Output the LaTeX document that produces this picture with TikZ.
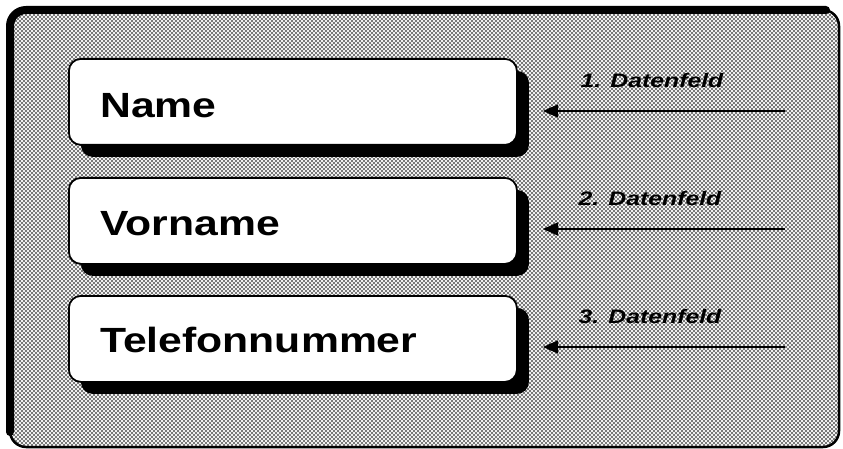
\documentclass[tikz,border=0pt]{standalone}
\usepackage{fontspec}
\setmainfont{Liberation Sans}
\usetikzlibrary{arrows.meta,patterns,shadows}
\pgfdeclarepatternformonly{halftone}{\pgfpoint{-1pt}{-1pt}}{\pgfpoint{5pt}{5pt}}{\pgfpoint{4pt}{4pt}}{%
  \pgfpathcircle{\pgfpoint{0pt}{0pt}}{0.8pt}%
  \pgfpathcircle{\pgfpoint{2pt}{2pt}}{0.8pt}%
  \pgfusepath{fill}}
\tikzset{
  field/.style={draw, line width=1.8pt, fill=white, rounded corners=12pt,
    minimum width=448pt, minimum height=86pt, inner sep=0pt, anchor=north west,
    drop shadow={shadow xshift=12pt, shadow yshift=-12pt, fill=black, opacity=1}},
  fieldtext/.style={anchor=base west, inner sep=0pt, font=\fontsize{35}{40}\selectfont\bfseries},
  tag/.style={anchor=base, inner sep=0pt, font=\fontsize{19.5}{22}\selectfont\bfseries\itshape},
  feed/.style={line width=1.6pt, -{Triangle[length=15pt,width=13pt]}}
}
\begin{document}
\begin{tikzpicture}[x=1pt,y=-1pt]
\useasboundingbox (0,0) rectangle (843,449);
% frame
\fill[white] (0,0) rectangle (843,449);
\fill[black!6] (10,10) [rounded corners=16pt] rectangle (839,447);
\path[pattern=halftone, pattern color=black, rounded corners=16pt] (10,10) rectangle (839,447);
\draw[line width=2.5pt, rounded corners=16pt] (10,10) rectangle (839,447);
\draw[line width=8pt, rounded corners=16pt, line cap=round] (10,432) -- (10,10) -- (826,10);
% boxes
\node[field] (b1) at (68,58) {};
\node[field] (b2) at (68,177) {};
\node[field] (b3) at (68,295) {};
\node[fieldtext] (t1) at (100,118) {\scalebox{1.22}[1]{Name}};
\node[fieldtext] (t2) at (100,235) {\scalebox{1.22}[1]{Vorname}};
\node[fieldtext] (t3) at (100,352) {\scalebox{1.22}[1]{Telefonnummer}};
% labels
\node[tag] (l1) at (652,88) {\scalebox{1.27}[1]{1. Datenfeld}};
\node[tag] (l2) at (650,205) {\scalebox{1.27}[1]{2. Datenfeld}};
\node[tag] (l3) at (650,323) {\scalebox{1.27}[1]{3. Datenfeld}};
% arrows
\coordinate (s1) at (785,111); \coordinate (e1) at (543,111);
\coordinate (s2) at (785,229); \coordinate (e2) at (543,229);
\coordinate (s3) at (785,347); \coordinate (e3) at (543,347);
\draw[feed] (s1) -- (e1);
\draw[feed] (s2) -- (e2);
\draw[feed] (s3) -- (e3);
\end{tikzpicture}
\end{document}
